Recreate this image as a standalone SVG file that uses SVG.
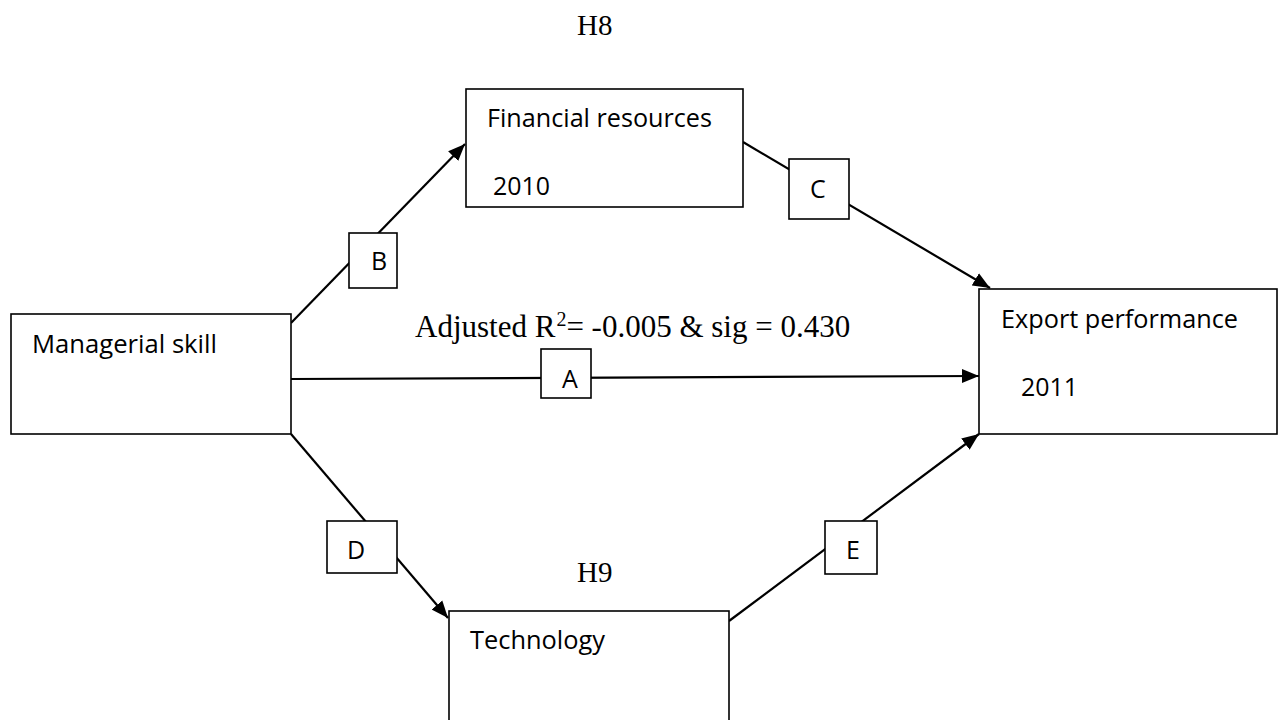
<svg xmlns="http://www.w3.org/2000/svg" width="1283" height="720" viewBox="0 0 1283 720">
  <style>
    .box { fill: #ffffff; stroke: #000000; stroke-width: 1.6; }
    .tag { fill: #ffffff; stroke: #000000; stroke-width: 1.6; }
    .link { fill: none; stroke: #000000; stroke-width: 2.2; }
    .sans { font-family: "Open Sans", "Noto Sans", "Liberation Sans", sans-serif; font-size: 25px; fill: #000000; }
    .serif { font-family: "Liberation Serif", "Times New Roman", serif; font-size: 29px; fill: #000000; }
    .stat { font-family: "Liberation Serif", "Times New Roman", serif; font-size: 31px; fill: #000000; }
  </style>
  <defs>
    <marker id="arrow" markerUnits="userSpaceOnUse" markerWidth="18" markerHeight="15" refX="17" refY="7.5" orient="auto">
      <path d="M0,0.5 L17,7.5 L0,14.5 z" fill="#000000"/>
    </marker>
  </defs>

  <rect width="1283" height="720" fill="#ffffff"/>

  <!-- paths between the constructs -->
  <g id="connectors">
    <line class="link" x1="291" y1="323" x2="465" y2="144" marker-end="url(#arrow)"/>
    <line class="link" x1="743" y1="142" x2="990" y2="288" marker-end="url(#arrow)"/>
    <line class="link" x1="291" y1="379" x2="979" y2="376" marker-end="url(#arrow)"/>
    <line class="link" x1="291" y1="434" x2="448" y2="618" marker-end="url(#arrow)"/>
    <line class="link" x1="729" y1="621" x2="979" y2="434" marker-end="url(#arrow)"/>
  </g>

  <!-- path labels -->
  <g id="label-B">
    <rect class="tag" x="349" y="233" width="48" height="55"/>
    <text class="sans" x="371" y="270">B</text>
  </g>
  <g id="label-C">
    <rect class="tag" x="789" y="159" width="60" height="60"/>
    <text class="sans" x="810" y="198">C</text>
  </g>
  <g id="label-A">
    <rect class="tag" x="541" y="349" width="50" height="49"/>
    <text class="sans" x="562" y="388">A</text>
  </g>
  <g id="label-D">
    <rect class="tag" x="327" y="521" width="70" height="52"/>
    <text class="sans" x="347" y="559">D</text>
  </g>
  <g id="label-E">
    <rect class="tag" x="825" y="521" width="52" height="53"/>
    <text class="sans" x="846" y="559">E</text>
  </g>

  <!-- constructs -->
  <g id="node-managerial">
    <rect class="box" x="11" y="314" width="280" height="120"/>
    <text class="sans" x="32" y="353" textLength="185" lengthAdjust="spacingAndGlyphs">Managerial skill</text>
  </g>
  <g id="node-financial">
    <rect class="box" x="466" y="89" width="277" height="118"/>
    <text class="sans" x="487" y="127" textLength="225" lengthAdjust="spacingAndGlyphs">Financial resources</text>
    <text class="sans" x="493" y="195" textLength="57" lengthAdjust="spacingAndGlyphs">2010</text>
  </g>
  <g id="node-export">
    <rect class="box" x="979" y="289" width="298" height="145"/>
    <text class="sans" x="1001" y="328" textLength="237" lengthAdjust="spacingAndGlyphs">Export performance</text>
    <text class="sans" x="1021" y="396" textLength="57" lengthAdjust="spacingAndGlyphs">2011</text>
  </g>
  <g id="node-technology">
    <rect class="box" x="449" y="611" width="280" height="115"/>
    <text class="sans" x="470" y="649" textLength="135" lengthAdjust="spacingAndGlyphs">Technology</text>
  </g>

  <!-- hypothesis captions and fit statistics -->
  <g id="captions">
    <text class="serif" x="577" y="35">H8</text>
    <text class="serif" x="577" y="582">H9</text>
    <text class="stat" x="415" y="337">Adjusted R<tspan font-size="20" dx="1" dy="-11">2</tspan><tspan dy="11">= -0.005 &amp; sig = 0.430</tspan></text>
  </g>
</svg>
